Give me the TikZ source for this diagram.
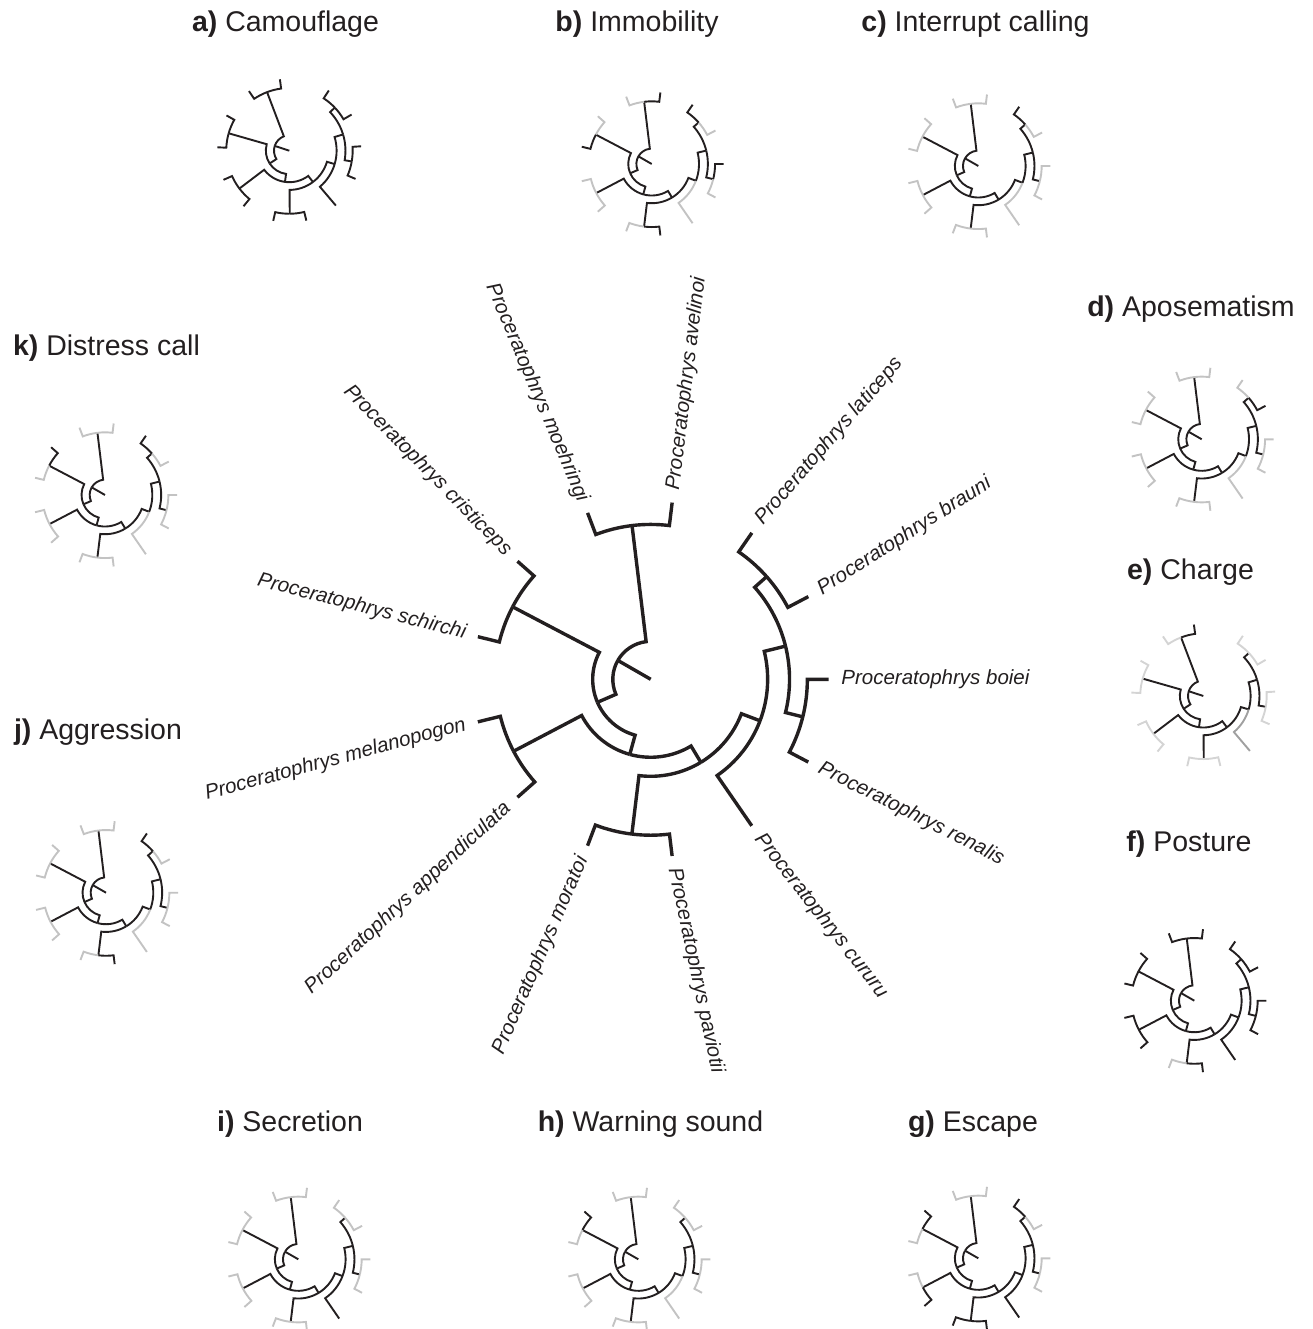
\documentclass[tikz,border=0pt]{standalone}
\usepackage{fontspec}
\setmainfont{Liberation Sans}

\definecolor{treeblack}{RGB}{35,31,32}
\definecolor{mapgray}{RGB}{195,195,195}
\definecolor{palegray}{RGB}{212,212,212}
\definecolor{midgray}{RGB}{160,160,160}

% edges: name/parent tip index/parent radius/child tip index/child radius
\newcommand\treeedges{A/2.421875/.213/0.5/.87, G/2.421875/.213/4.34375/.326,
  CS/4.34375/.326/2.5/.876, F/4.34375/.326/6.1875/.438, MA/6.1875/.438/4.5/.87,
  E/6.1875/.438/7.875/.545, MP/7.875/.545/6.5/.876, D/7.875/.545/9.25/.657,
  cu/9.25/.657/8/1, C/9.25/.657/10.5/.78, BR/10.5/.78/9.5/.88, BL/10.5/.78/11.5/.87,
  av/0.5/.87/0/1, mo/0.5/.87/1/1, cr/2.5/.876/2/1, sc/2.5/.876/3/1,
  me/4.5/.87/4/1, ap/4.5/.87/5/1, mr/6.5/.876/6/1, pa/6.5/.876/7/1,
  re/9.5/.88/9/1, bo/9.5/.88/10/1, br/11.5/.87/11/1, la/11.5/.87/12/1}

% #1 angle of first tip, #2 angle between tips
\newcommand\drawtree[2]{%
  \draw (0,0) -- ({#1+2.421875*#2}:.213);
  \foreach \nm/\kp/\rp/\kc/\rc in \treeedges
    \draw[e-\nm/.try] ({#1+\kp*#2}:\rp) arc[start angle={#1+\kp*#2}, end angle={#1+\kc*#2}, radius=\rp] -- ({#1+\kc*#2}:\rc);
}

\begin{document}
\begin{tikzpicture}[x=1pt, y=1pt, treeblack,
    absent/.style={e-#1/.style={mapgray}},
    pale/.style={e-#1/.style={palegray}},
    small/.style={line width=1.9pt},
    title/.style={font=\fontsize{28.5}{32}\selectfont, anchor=base, inner sep=0pt},
    lab/.style={font=\fontsize{20.5}{24}\selectfont\itshape, inner sep=0pt}
  ]
  \useasboundingbox (0,0) rectangle (1312,1329);

  % main tree
  \begin{scope}[shift={(650.7,649.7)}, scale=178, line width=3.4pt]
    \drawtree{83.08}{27.69}
    \foreach \k/\sp/\dir in {0/avelinoi/83, 7/paviotii/282, 8/cururu/308, 9/renalis/333.3,
        10/boiei/0, 11/brauni/32.6, 12/laticeps/49.1}
      \node[lab, anchor=west, rotate=\dir] (l-\sp) at ({83.08+\k*27.69}:1.062) {Proceratophrys \sp};
    \foreach \k/\sp/\dir in {1/moehringi/112.9, 2/cristiceps/134.4, 3/schirchi/165.7,
        4/melanopogon/195, 5/appendiculata/222.8, 6/moratoi/246.6}
      \node[lab, anchor=east, rotate=\dir-180] (l-\sp) at ({83.08+\k*27.69}:1.062) {Proceratophrys \sp};
  \end{scope}

  % a) Camouflage
  \begin{scope}[shift={(289.3,1178.3)}, scale=72, small]
    \drawtree{97.5}{26.6}
  \end{scope}
  % b) Immobility
  \begin{scope}[shift={(651.7,1165)}, scale=72, small, absent/.list={mo,cr,me,ap,mr,cu,re,br}]
    \drawtree{83.08}{27.69}
  \end{scope}
  % c) Interrupt calling
  \begin{scope}[shift={(978.3,1163)}, scale=72, small, absent/.list={av,mo,cr,sc,me,ap,mr,pa,cu,re,bo,br}]
    \drawtree{83.08}{27.69}
  \end{scope}
  % d) Aposematism
  \begin{scope}[shift={(1201.7,889.7)}, scale=72, small, absent/.list={av,mo,cr,sc,me,ap,mr,pa,cu,re,bo,la}]
    \drawtree{83.08}{27.69}
  \end{scope}
  % e) Charge
  \begin{scope}[shift={(1203.3,633)}, scale=72, small, pale/.list={mo,cr,sc,me,ap,mr,pa,re,bo,br,la}, e-cu/.style={midgray}]
    \drawtree{97.5}{26.6}
  \end{scope}
  % f) Posture
  \begin{scope}[shift={(1194.3,328.3)}, scale=72, small, absent/.list={mr}]
    \drawtree{83.08}{27.69}
  \end{scope}
  % g) Escape
  \begin{scope}[shift={(978.3,70.7)}, scale=72, small, absent/.list={av,mo,sc,me,bo,re,br}]
    \drawtree{83.08}{27.69}
  \end{scope}
  % h) Warning sound
  \begin{scope}[shift={(638.3,69.7)}, scale=72, small, absent/.list={av,mo,sc,me,ap,mr,pa,cu,re,bo,br,la}]
    \drawtree{83.08}{27.69}
  \end{scope}
  % i) Secretion
  \begin{scope}[shift={(298.3,69.7)}, scale=72, small, absent/.list={av,mo,cr,sc,me,ap,mr,pa,re,bo,br,la}]
    \drawtree{83.08}{27.69}
  \end{scope}
  % j) Aggression
  \begin{scope}[shift={(106,436.3)}, scale=72, small, absent/.list={av,mo,cr,sc,me,ap,mr,cu,re,bo,br}]
    \drawtree{83.08}{27.69}
  \end{scope}
  % k) Distress call
  \begin{scope}[shift={(105,834)}, scale=72, small, absent/.list={av,mo,sc,me,ap,mr,pa,cu,re,bo,br}]
    \drawtree{83.08}{27.69}
  \end{scope}

  \node[title] (t-a) at (285.5,1297) {\textbf{a)} Camouflage};
  \node[title] (t-b) at (637,1297) {\textbf{b)} Immobility};
  \node[title] (t-c) at (975.5,1297) {\textbf{c)} Interrupt calling};
  \node[title] (t-d) at (1191,1012) {\textbf{d)} Aposematism};
  \node[title] (t-e) at (1190.5,749) {\textbf{e)} Charge};
  \node[title] (t-f) at (1189,477) {\textbf{f)} Posture};
  \node[title] (t-g) at (973,197) {\textbf{g)} Escape};
  \node[title] (t-h) at (650.5,197) {\textbf{h)} Warning sound};
  \node[title] (t-i) at (290,197) {\textbf{i)} Secretion};
  \node[title] (t-j) at (98,589) {\textbf{j)} Aggression};
  \node[title] (t-k) at (106.5,973) {\textbf{k)} Distress call};
\end{tikzpicture}
\end{document}
